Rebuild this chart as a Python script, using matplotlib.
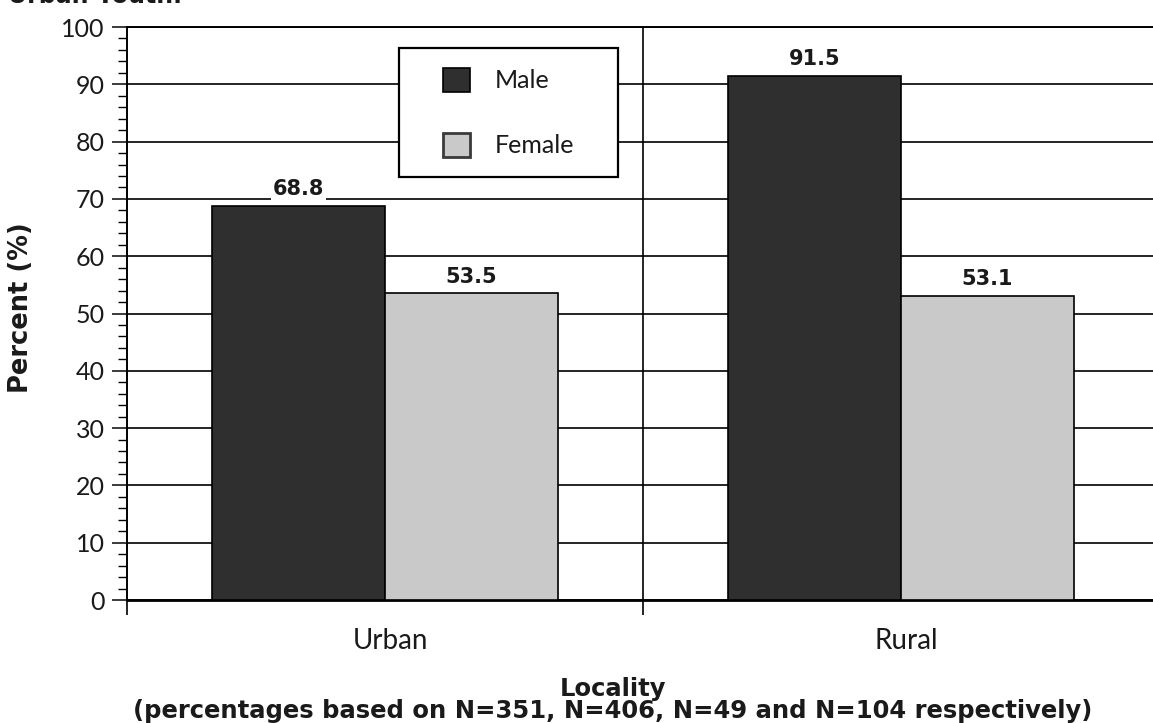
import matplotlib
matplotlib.use("Agg")
import matplotlib.pyplot as plt
from matplotlib.patches import Rectangle
from matplotlib.ticker import MultipleLocator, FixedLocator, NullFormatter
import numpy as np

# Data
localities = ["Urban", "Rural"]
male = [68.8, 91.5]
female = [53.5, 53.1]
series_labels = ["Male", "Female"]
sample_note = "(percentages based on N=351, N=406, N=49 and N=104 respectively)"

plt.rcParams["font.family"] = ["Lato", "DejaVu Sans"]
BOLD = dict(family="DejaVu Sans", fontweight="bold")
INK = "#1a1a1a"

W, H = 1153, 723
fig = plt.figure(figsize=(W / 100, H / 100), dpi=100)
ax = fig.add_axes([127 / W, (H - 600) / H, (1159 - 127) / W, 573 / H])

MALE_C = "#2f2f2f"
FEMALE_C = "#c9c9c9"
bw = 0.335
x = np.arange(len(localities))

bars_m = ax.bar(x - bw / 2, male, width=bw, color=MALE_C, edgecolor="black",
                linewidth=1.2, label=series_labels[0], zorder=3)
bars_f = ax.bar(x + bw / 2, female, width=bw, color=FEMALE_C, edgecolor="black",
                linewidth=1.2, label=series_labels[1], zorder=3)

for bars, vals in ((bars_m, male), (bars_f, female)):
    for b, v in zip(bars, vals):
        ax.text(b.get_x() + b.get_width() / 2, v + 1.8, f"{v:.1f}",
                ha="center", va="baseline", fontsize=15, color=INK,
                zorder=4, bbox=dict(facecolor="white", edgecolor="none", pad=1.5),
                **BOLD)

ax.set_xlim(-0.5, 1.5)
ax.set_ylim(0, 100)

# y axis: major every 10 with grid, minor every 2
ax.yaxis.set_major_locator(MultipleLocator(10))
ax.yaxis.set_minor_locator(MultipleLocator(2))
ax.tick_params(axis="y", which="major", direction="out", length=11, width=1.2,
               pad=5, labelsize=18, colors=INK)
ax.tick_params(axis="y", which="minor", direction="out", length=6.5, width=1.0)
ax.yaxis.grid(True, which="major", color="black", linewidth=1.2, zorder=0)

# x axis: ticks at the category dividers, labels at the centers
ax.xaxis.set_major_locator(FixedLocator([-0.5, 0.5, 1.5]))
ax.xaxis.set_major_formatter(NullFormatter())
ax.xaxis.set_minor_locator(FixedLocator(x + 0.01))
ax.set_xticklabels(localities, minor=True)
ax.tick_params(axis="x", which="major", direction="out", length=11, width=1.2)
ax.tick_params(axis="x", which="minor", length=0, pad=20, labelsize=20,
               colors=INK)
ax.axvline(0.5, color="black", linewidth=1.2, zorder=1)

for s in ("left", "top"):
    ax.spines[s].set_linewidth(1.4)
ax.spines["bottom"].set_linewidth(2.0)
ax.spines["right"].set_visible(False)
ax.set_axisbelow(True)

ax.set_ylabel("Percent (%)", fontsize=18.5, color=INK, **BOLD)
ax.yaxis.set_label_coords(-0.09, 0.511)

fig.text(613 / W, 1 - 689 / H, "Locality", ha="center", va="center",
         fontsize=17.5, color=INK, **BOLD)
fig.text(613 / W, 1 - 711 / H, sample_note, ha="center", va="center",
         fontsize=17.5, color=INK, **BOLD)

# heading running off the top edge
fig.text(8 / W, 1 - 3 / H, "Urban Youth.", ha="left", va="baseline",
         fontsize=17, color=INK, **BOLD)

# legend: white boxed panel with the two series swatches
frame = Rectangle((399 / W, 1 - 177 / H), (618 - 399) / W, (177 - 48) / H,
                  transform=fig.transFigure, facecolor="white",
                  edgecolor="black", linewidth=1.6, zorder=5, clip_on=False)
ax.add_patch(frame)
leg = ax.legend(loc="upper left", bbox_to_anchor=(443 / W, 1 - 68 / H),
                bbox_transform=fig.transFigure, borderaxespad=0, borderpad=0,
                fontsize=18, frameon=False, handlelength=1.08,
                handleheight=1.08, handletextpad=1.0, labelspacing=1.63)
leg.set_zorder(6)
for t in leg.get_texts():
    t.set_color(INK)
handles = leg.legend_handles
handles[1].set_edgecolor("#3a3a3a")
handles[1].set_linewidth(2.0)

fig.savefig("out.png", dpi=100)
